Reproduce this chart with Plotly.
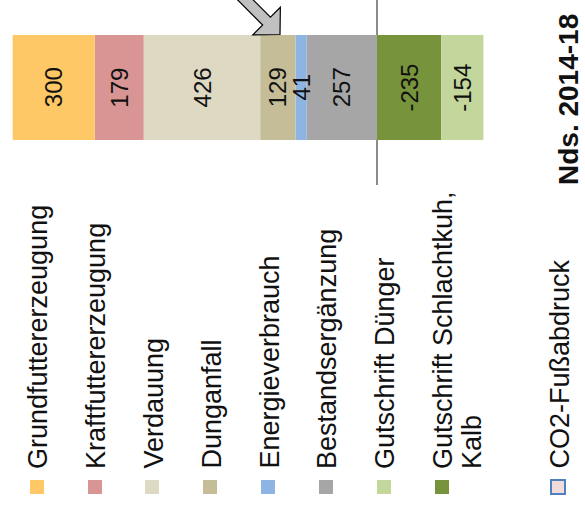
import plotly.graph_objects as go

# Emission components (g CO2-eq per kg milk), stacked from the zero line outward
categories = ["Nds. 2014-18"]
series_names = [
    "Bestandsergänzung",
    "Energieverbrauch",
    "Dunganfall",
    "Verdauung",
    "Kraftfuttererzeugung",
    "Grundfuttererzeugung",
    "Gutschrift Schlachtkuh, Kalb",
    "Gutschrift Dünger",
]
series_values = [257, 41, 129, 426, 179, 300, -235, -154]
series_colors = [
    "#A6A6A6", "#8DB4E2", "#C4BD97", "#DDD9C3",
    "#D99594", "#FDC865", "#77933C", "#C3D69B",
]

# Legend order (as listed under the chart)
legend_names = [
    "Grundfuttererzeugung",
    "Kraftfuttererzeugung",
    "Verdauung",
    "Dunganfall",
    "Energieverbrauch",
    "Bestandsergänzung",
    "Gutschrift Dünger",
    "Gutschrift Schlachtkuh, Kalb",
]
footprint_name = "CO2-Fußabdruck"

W, H = 585, 508
FONT = "Liberation Sans, Arial, sans-serif"


def px(x):
    return x / W


def py(y):
    return 1 - y / H


fig = go.Figure()
annotations = []
pos_base, neg_base = 0, 0
for name, val, col in zip(series_names, series_values, series_colors):
    fig.add_trace(go.Bar(
        y=categories, x=[val], name=name, orientation="h",
        marker=dict(color=col, line=dict(width=0)),
        width=1, showlegend=False,
    ))
    # value label centred in its stacked segment
    if val >= 0:
        centre = pos_base + val / 2
        pos_base += val
    else:
        centre = neg_base + val / 2
        neg_base += val
    annotations.append(dict(
        xref="x", yref="y", x=centre, y=categories[0],
        text=str(val), textangle=-90, showarrow=False,
        xanchor="center", yanchor="middle",
        font=dict(family=FONT, size=24, color="#111111"),
    ))

shapes = []

# Hand-built legend: rotated entries reading bottom to top
color_of = dict(zip(series_names, series_colors))
legend_x = [37, 95, 152, 210, 268, 326, 384, 442]
sq = 7
for name, cx in zip(legend_names, legend_x):
    shapes.append(dict(
        type="rect", xref="paper", yref="paper",
        x0=px(cx - sq), x1=px(cx + sq), y0=py(487 + sq), y1=py(487 - sq),
        fillcolor=color_of[name], line=dict(width=0),
    ))
    lines = name.split(", ")
    for i, part in enumerate(lines):
        annotations.append(dict(
            xref="paper", yref="paper", x=px(cx + 1 + 29 * i), y=py(471),
            text=part + ("," if i < len(lines) - 1 else ""),
            textangle=-90, showarrow=False,
            xanchor="center", yanchor="bottom",
            font=dict(family=FONT, size=27, color="#111111"),
        ))

# Footprint marker entry
cx = 558
shapes.append(dict(
    type="rect", xref="paper", yref="paper",
    x0=px(cx - sq), x1=px(cx + sq), y0=py(487 + sq), y1=py(487 - sq),
    fillcolor="#F2DCDB", line=dict(color="#4F81BD", width=2),
))
annotations.append(dict(
    xref="paper", yref="paper", x=px(cx + 1), y=py(471),
    text=footprint_name, textangle=-90, showarrow=False,
    xanchor="center", yanchor="bottom",
    font=dict(family=FONT, size=27, color="#111111"),
))

# Category label
annotations.append(dict(
    xref="paper", yref="paper", x=px(569), y=py(100),
    text="<b>" + categories[0] + "</b>", textangle=-90, showarrow=False,
    xanchor="center", yanchor="middle",
    font=dict(family=FONT, size=28, color="#111111"),
))

# Block arrow pointing at the manure/energy segments
tip = (280, 34.5)
d = (0.7071, 0.7071)
n = (0.7071, -0.7071)
mid = (tip[0] - 19 * d[0], tip[1] - 19 * d[1])
hw, sw, back = 19.5, 5.5, 70
pts = [
    tip,
    (mid[0] + hw * n[0], mid[1] + hw * n[1]),
    (mid[0] + sw * n[0], mid[1] + sw * n[1]),
    (mid[0] + sw * n[0] - back * d[0], mid[1] + sw * n[1] - back * d[1]),
    (mid[0] - sw * n[0] - back * d[0], mid[1] - sw * n[1] - back * d[1]),
    (mid[0] - sw * n[0], mid[1] - sw * n[1]),
    (mid[0] - hw * n[0], mid[1] - hw * n[1]),
]
path = "M " + " L ".join(f"{px(x):.5f},{py(y):.5f}" for x, y in pts) + " Z"
shapes.append(dict(
    type="path", xref="paper", yref="paper", path=path,
    fillcolor="#C0C0C0", line=dict(color="#000000", width=1.2),
))

fig.update_layout(
    width=W, height=H,
    margin=dict(l=0, r=0, t=0, b=0),
    barmode="relative",
    paper_bgcolor="white", plot_bgcolor="white",
    shapes=shapes, annotations=annotations,
    xaxis=dict(
        range=[1378.4, -760.5], showgrid=False, showticklabels=False,
        zeroline=True, zerolinecolor="#8C8C8C", zerolinewidth=1.5,
        showline=False, ticks="",
    ),
    yaxis=dict(
        domain=[1 - 185 / H, 1], range=[-0.929, 0.833],
        showgrid=False, showticklabels=False, zeroline=False,
        showline=False, ticks="",
    ),
)

fig.write_html("out.html")
